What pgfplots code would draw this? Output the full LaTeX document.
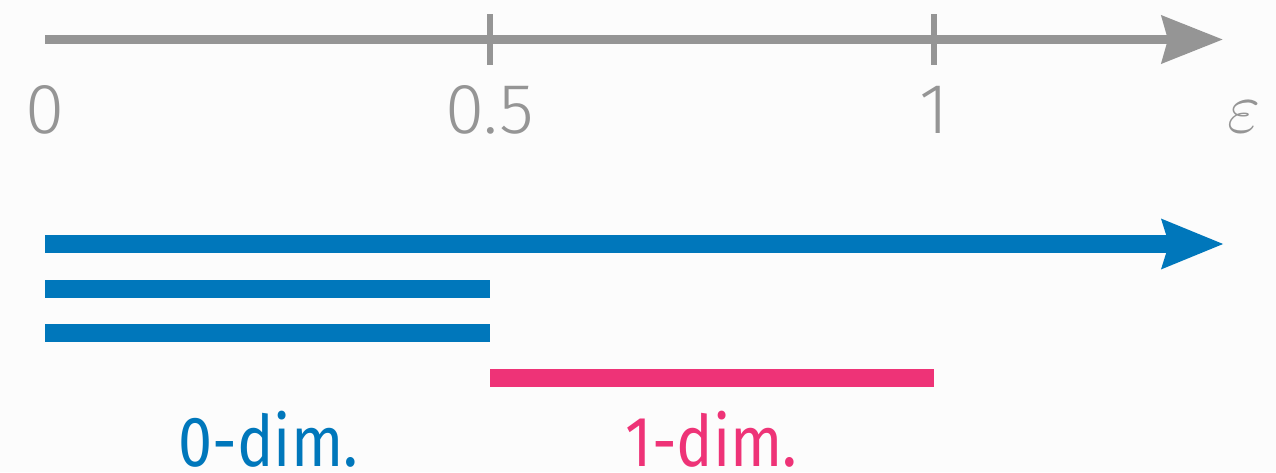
\documentclass[border=0pt]{standalone}
\usepackage{fontspec}
\setmainfont{Fira Sans}
\newfontfamily\lightfont{Fira Sans Light}
\newfontfamily\narrowfont[FakeStretch=0.86]{Fira Sans}
\usepackage{pgfplots}
\pgfplotsset{compat=1.18}
\usetikzlibrary{arrows.meta}
\definecolor{gr}{HTML}{959595}
\definecolor{tolblue}{HTML}{0077BB}
\definecolor{tolmag}{HTML}{EE3377}
\definecolor{bgc}{HTML}{FCFCFC}
\begin{document}
\begin{tikzpicture}
\path[use as bounding box, clip] (0,0) rectangle (638pt,236pt);
\fill[bgc] (0,0) rectangle (638pt,236pt);
\begin{axis}[at={(0,0)}, anchor=south west, scale only axis,
  width=638pt, height=236pt,
  xmin=-0.050619, xmax=1.384702, ymin=0, ymax=472,
  axis lines=none, clip=false]
% epsilon axis
\addplot[gr, line width=4.5pt, line cap=butt, -{Stealth[length=30.5pt, width=23.5pt, inset=3pt]}] coordinates {(0,432.5) (1.325,432.5)};
\addplot[gr, line width=3pt] coordinates {(0.5,407) (0.5,458)};
\addplot[gr, line width=3pt] coordinates {(1,407) (1,458)};
% barcode
\addplot[tolblue, line width=9pt, line cap=butt, -{Stealth[length=30.5pt, width=23.5pt, inset=3pt]}] coordinates {(0,228) (1.3263,228)};
\addplot[tolblue, line width=9pt, line cap=butt] coordinates {(0,183) (0.5006,183)};
\addplot[tolblue, line width=9pt, line cap=butt] coordinates {(0,139) (0.5006,139)};
\addplot[tolmag, line width=9pt, line cap=butt] coordinates {(0.5006,94) (1.0,94)};
% labels
\node[gr, anchor=base, font=\lightfont\fontsize{35.5pt}{40pt}\selectfont] at (axis cs:0,339) {0};
\node[gr, anchor=base, font=\lightfont\fontsize{35.5pt}{40pt}\selectfont] at (axis cs:0.5,339) {0.5};
\node[gr, anchor=base, font=\lightfont\fontsize{35.5pt}{40pt}\selectfont] at (axis cs:1,339) {1};
\node[gr, anchor=base, inner sep=0pt, scale=1.45, font=\fontsize{24.88pt}{28pt}\selectfont] at (axis cs:1.3486,340) {$\varepsilon$};
\node[tolblue, anchor=base, inner sep=0pt, font=\narrowfont\fontsize{35.5pt}{40pt}\selectfont] at (axis cs:0.2512,6) {0-dim.};
\node[tolmag, anchor=base, inner sep=0pt, font=\narrowfont\fontsize{35.5pt}{40pt}\selectfont] at (axis cs:0.7497,6) {1-dim.};
\end{axis}
\end{tikzpicture}
\end{document}
